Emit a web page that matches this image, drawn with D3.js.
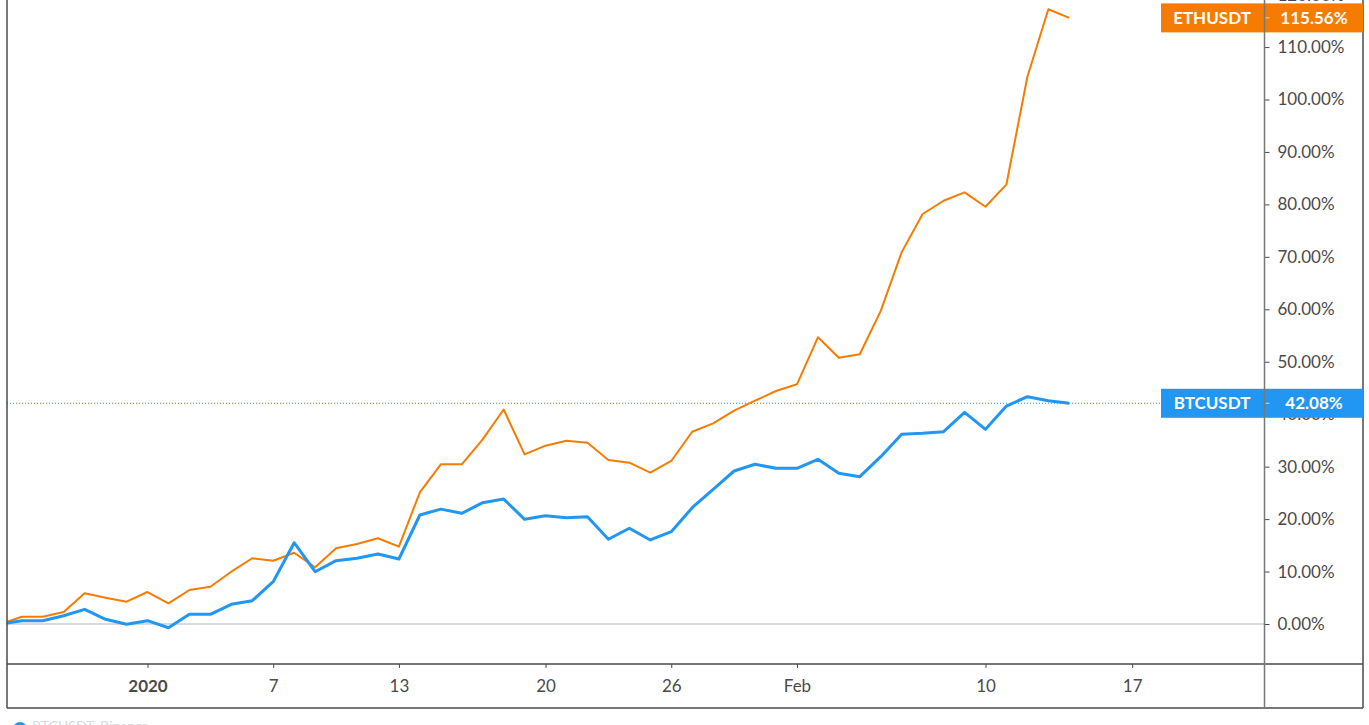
<!DOCTYPE html>
<html>
<head>
<meta charset="utf-8">
<script src="https://cdn.jsdelivr.net/npm/d3@7"></script>
<style>
  html, body { margin: 0; padding: 0; background: #ffffff; }
  svg { display: block; }
  text { font-family: Lato, "Open Sans", "DejaVu Sans", sans-serif; }
</style>
</head>
<body>
<svg id="chart" width="1369" height="725"></svg>
<script>
// ---- data ----
const startDate = "2019-12-25";
const endDate = "2020-02-14";
const ethSeries = "ETHUSDT";
const btcSeries = "BTCUSDT";
const ethValues = [
  0, 1.39, 1.39, 2.29, 5.85, 5.01, 4.25,
  6.10, 3.95, 6.48, 7.11, 9.97, 12.53, 12.07, 13.59, 10.81, 14.43,
  15.25, 16.34, 14.74, 25.1, 30.45, 30.45, 35.2, 40.9, 32.35, 34.0,
  34.95, 34.57, 31.27, 30.75, 28.85, 31.08, 36.66, 38.26, 40.67, 42.57,
  44.42,
  45.70, 54.66, 50.77, 51.42, 59.7, 70.9, 78.17, 80.7, 82.3, 79.56,
  83.83, 104.35, 117.2, 115.56
];
const btcValues = [
  0, 0.63, 0.63, 1.58, 2.80, 0.90, -0.06,
  0.63, -0.71, 1.85, 1.85, 3.76, 4.44, 8.06, 15.50, 9.97, 12.07,
  12.53, 13.35, 12.39, 20.78, 21.9, 21.1, 23.13, 23.83, 19.96, 20.65,
  20.27, 20.46, 16.15, 18.25, 16.02, 17.6, 22.17, 25.68, 29.17, 30.45,
  29.69,
  29.69, 31.4, 28.73, 28.09, 31.9, 36.17, 36.36, 36.66, 40.36, 37.12,
  41.56, 43.34, 42.57, 42.08
];
const xTickDates = ["2020-01-01", "2020-01-07", "2020-01-13", "2020-01-20", "2020-01-26", "2020-02-01", "2020-02-10", "2020-02-17"];
const xTickLabels = ["2020", "7", "13", "20", "26", "Feb", "10", "17"];
const yTickValues = [0, 10, 20, 30, 40, 50, 60, 70, 80, 90, 100, 110, 120];

// ---- setup ----
const parse = d3.utcParse("%Y-%m-%d");
const t0 = parse(startDate), t1 = parse(endDate);
const dates = d3.utcDay.range(t0, d3.utcDay.offset(t1, 1));
const eth = dates.map((d, i) => ({ date: d, v: ethValues[i] }));
const btc = dates.map((d, i) => ({ date: d, v: btcValues[i] }));

const plotL = 7, plotR = 1264.5, plotB = 664, frameB = 708, frameR = 1363;
const ETH_COLOR = "#f57c00", BTC_COLOR = "#2196f3", AXIS = "#4a4a4a";

const x = d3.scaleUtc().domain([t0, t1]).range([0.85, 0.85 + 51 * 20.95]);
const y = d3.scaleLinear().domain([0, 110]).range([624, 47.05]);

const svg = d3.select("#chart");
const defs = svg.append("defs");
defs.append("clipPath").attr("id", "plotClip")
  .append("rect").attr("x", plotL).attr("y", -10).attr("width", plotR - plotL).attr("height", plotB + 10);

// zero line
svg.append("line")
  .attr("x1", plotL).attr("x2", plotR)
  .attr("y1", y(0)).attr("y2", y(0))
  .attr("stroke", "#b2b5be").attr("stroke-width", 1);

// dotted BTC last-value line
svg.append("line")
  .attr("x1", plotL).attr("x2", 1161)
  .attr("y1", y(btcValues[btcValues.length - 1])).attr("y2", y(btcValues[btcValues.length - 1]))
  .attr("stroke", BTC_COLOR).attr("stroke-width", 1).attr("stroke-dasharray", "1,2");

const line = d3.line().x(d => x(d.date)).y(d => y(d.v));
const g = svg.append("g").attr("clip-path", "url(#plotClip)");
g.append("path").datum(eth).attr("d", line)
  .attr("fill", "none").attr("stroke", ETH_COLOR).attr("stroke-width", 2).attr("stroke-linejoin", "round");
g.append("path").datum(btc).attr("d", line)
  .attr("fill", "none").attr("stroke", BTC_COLOR).attr("stroke-width", 3).attr("stroke-linejoin", "round");

// frame lines
svg.append("line").attr("x1", plotL).attr("x2", plotL).attr("y1", 0).attr("y2", frameB).attr("stroke", AXIS).attr("stroke-width", 1.5);
svg.append("line").attr("x1", plotL).attr("x2", frameR).attr("y1", plotB).attr("y2", plotB).attr("stroke", AXIS).attr("stroke-width", 1.5);
svg.append("line").attr("x1", plotL).attr("x2", frameR).attr("y1", frameB).attr("y2", frameB).attr("stroke", AXIS).attr("stroke-width", 1.5);
svg.append("line").attr("x1", frameR).attr("x2", frameR).attr("y1", 0).attr("y2", frameB).attr("stroke", AXIS).attr("stroke-width", 1.5);

// x axis
const xAxis = d3.axisBottom(x)
  .tickValues(xTickDates.map(parse))
  .tickFormat((d, i) => xTickLabels[i])
  .tickSize(4).tickPadding(12);
const xg = svg.append("g").attr("transform", `translate(0,${plotB})`).call(xAxis);
xg.select(".domain").remove();
xg.selectAll(".tick line").attr("stroke", AXIS);
xg.selectAll(".tick text")
  .attr("fill", AXIS).attr("font-size", 17)
  .attr("font-weight", (d, i) => i === 0 ? 700 : 400)
  .attr("font-family", "Lato, 'Open Sans', sans-serif");

// y axis
const yAxis = d3.axisRight(y)
  .tickValues(yTickValues)
  .tickFormat(d => d3.format(".2f")(d) + "%")
  .tickSize(5).tickPadding(8);
const yg = svg.append("g").attr("transform", `translate(${plotR},0)`).call(yAxis);
yg.select(".domain").remove();
yg.selectAll(".tick line").attr("stroke", AXIS);
yg.selectAll(".tick text")
  .attr("fill", AXIS).attr("font-size", 17)
  .attr("font-family", "Lato, 'Open Sans', sans-serif");

// last-value labels
function lastLabel(name, val, color) {
  const cy = y(val);
  const lg = svg.append("g");
  lg.append("rect").attr("x", 1161).attr("y", cy - 14.5).attr("width", frameR - 1161).attr("height", 29).attr("fill", color);
  lg.append("text").attr("x", 1212).attr("y", cy).attr("dy", "0.35em")
    .attr("text-anchor", "middle").attr("fill", "#fff").attr("font-size", 17).attr("font-weight", 700).text(name);
  lg.append("text").attr("x", 1314).attr("y", cy).attr("dy", "0.35em")
    .attr("text-anchor", "middle").attr("fill", "#fff").attr("font-size", 17).attr("font-weight", 700)
    .text(d3.format(".2f")(val) + "%");
  lg.append("line").attr("x1", plotR + 1).attr("x2", plotR + 5).attr("y1", cy).attr("y2", cy)
    .attr("stroke", "#ffffff").attr("stroke-opacity", 0.7);
}
lastLabel(ethSeries, ethValues[ethValues.length - 1], ETH_COLOR);
lastLabel(btcSeries, btcValues[btcValues.length - 1], BTC_COLOR);

// y axis separator line (drawn on top)
svg.append("line").attr("x1", plotR).attr("x2", plotR).attr("y1", 0).attr("y2", frameB).attr("stroke", "#777").attr("stroke-width", 1.5);

// cut-off legend at bottom
svg.append("circle").attr("cx", 20).attr("cy", 729).attr("r", 7).attr("fill", BTC_COLOR);
svg.append("text").attr("x", 32).attr("y", 731).attr("fill", "#d6d9e0").attr("font-size", 14)
  .text("BTCUSDT, Binance");
</script>
</body>
</html>
